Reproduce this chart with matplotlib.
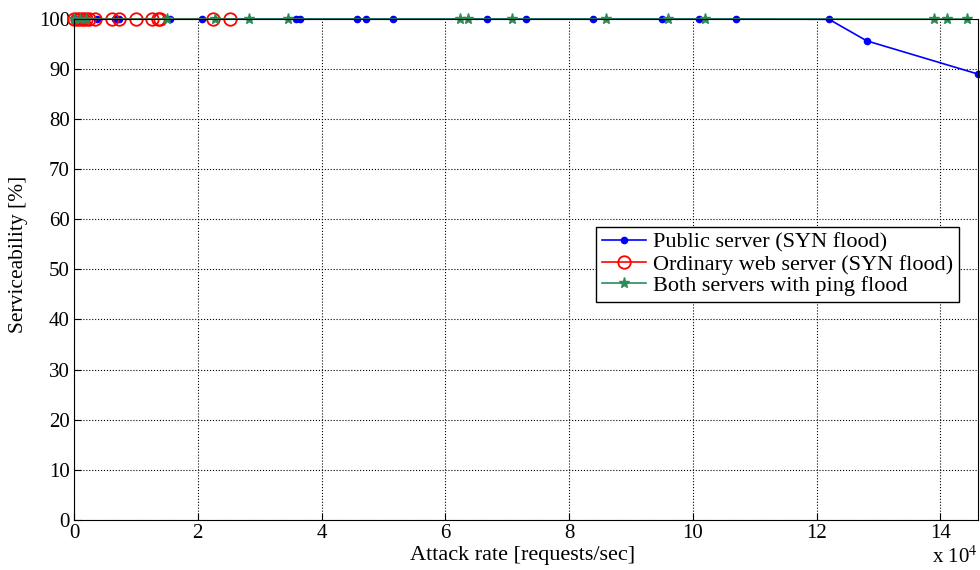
import matplotlib
matplotlib.use("Agg")
import matplotlib.pyplot as plt

plt.rcParams['font.family'] = ['Liberation Serif', 'DejaVu Serif']
plt.rcParams['mathtext.fontset'] = 'stix'

# attack rates in units of 10^4 requests/sec, serviceability in %
public_x = [0.0, 0.1, 0.2, 0.37, 0.66, 0.72, 1.55, 2.07, 3.58, 3.65, 4.57, 4.72,
            5.15, 6.68, 7.3, 8.39, 9.5, 10.1, 10.7, 12.2, 12.81, 14.6]
public_y = [100] * 19 + [99.9, 95.6, 89.0]

ordinary_x = [0.0, 0.05, 0.1, 0.15, 0.2, 0.25, 0.34, 0.61, 0.72, 1.01, 1.26, 1.36,
              1.39, 2.25, 2.52]
ordinary_y = [100] * len(ordinary_x)

ping_x = [0.0, 0.1, 0.2, 1.5, 2.28, 2.82, 3.46, 6.23, 6.36, 7.08, 8.59, 9.6,
          10.19, 13.9, 14.1, 14.43]
ping_y = [100] * len(ping_x)

fig = plt.figure(figsize=(9.8, 5.7), dpi=100)
ax = fig.add_axes([0.0755, 0.088, 0.922, 0.879])

ax.plot(public_x, public_y, color='blue', marker='o', markersize=4.5,
        linewidth=1.2, label='Public server (SYN flood)', clip_on=False)
ax.plot(ordinary_x, ordinary_y, color='red', marker='o', markersize=9,
        markerfacecolor='none', markeredgewidth=1.3, linewidth=1.2,
        label='Ordinary web server (SYN flood)', clip_on=False)
ax.plot(ping_x, ping_y, color='#2e8b57', marker='*', markersize=8,
        linewidth=1.2, label='Both servers with ping flood', clip_on=False)
# green line carries on to the right edge at 100 %
ax.axhline(100, xmin=ping_x[-1] / 14.6, color='#2e8b57', linewidth=1.2)

ax.set_xlim(0, 14.6)
ax.set_ylim(0, 100)
ax.set_xticks(range(0, 15, 2))
ax.set_yticks(range(0, 101, 10))
ax.grid(True, color='black', linestyle=':', linewidth=0.8)
ax.tick_params(direction='in', labelsize=15, length=5, pad=3)
for s in ax.spines.values():
    s.set_linewidth(0.8)

ax.set_xlabel('Attack rate [requests/sec]', fontsize=16)
ax.xaxis.set_label_coords(0.497, -0.052)
ax.set_ylabel('Serviceability [%]', fontsize=15.5)
ax.yaxis.set_label_coords(-0.051, 0.53)
fig.text(0.951, 0.012, r'x 10$^4$', fontsize=15)

ax.legend(loc='center right', bbox_to_anchor=(0.979, 0.51), fontsize=16,
          fancybox=False, edgecolor='black', framealpha=1,
          borderpad=0.25, labelspacing=0.05, handlelength=2.0, handletextpad=0.3,
          borderaxespad=0)

fig.savefig('out.png', dpi=100)
